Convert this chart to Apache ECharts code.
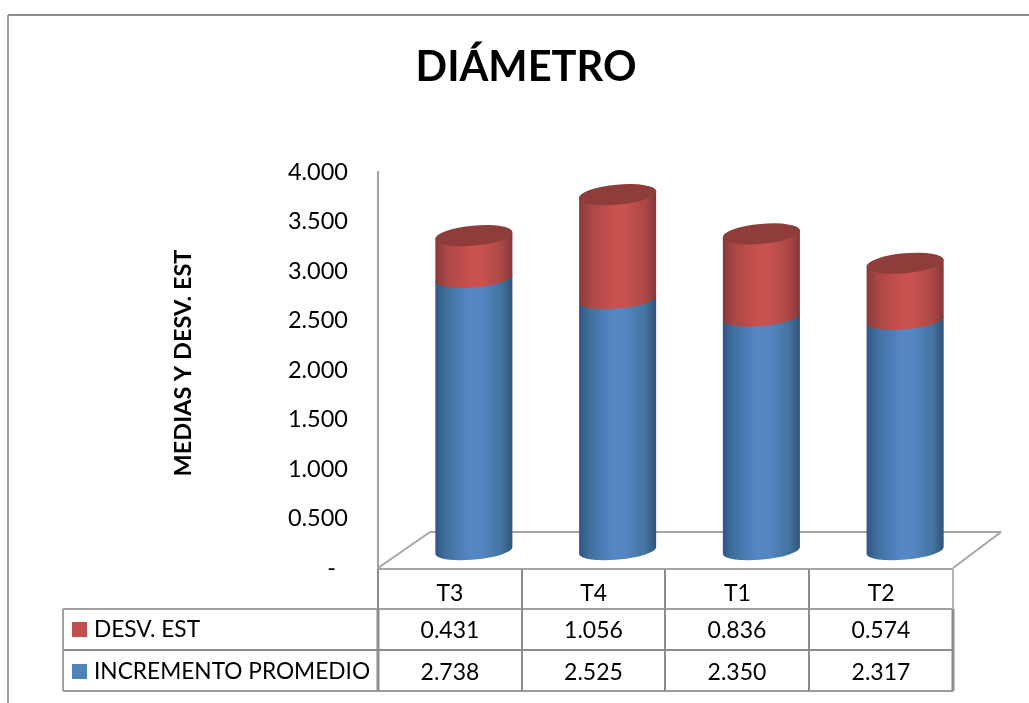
<!DOCTYPE html>
<html><head><meta charset="utf-8">
<style>html,body{margin:0;padding:0;background:#fff}#c{width:1029px;height:703px}</style>
<script src="https://cdn.jsdelivr.net/npm/echarts@6/dist/echarts.min.js"></script>
</head><body><div id="c"></div>
<script>
const categories = ['T3','T4','T1','T2'];
const incremento = [2.738,2.525,2.350,2.317];
const desvEst = [0.431,1.056,0.836,0.574];
const FONT = 'Lato';
const LINE = '#8a8a8a';
const chart = echarts.init(document.getElementById('c'));

const RATIO = 0.536, TILT = 3.5, RY = 9;
function cylinder(api, colors, capColor){
  const cat = api.value(0);
  const bot = api.coord([cat, api.value(1)]);
  const top = api.coord([cat, api.value(2)]);
  const hw = api.size([1,0])[0]*RATIO/2;
  const rx = Math.sqrt(hw*hw+TILT*TILT), rot = -Math.atan2(TILT,hw)*180/Math.PI;
  const cx = bot[0];
  const arc = (x,y,ry)=>`A ${rx} ${ry||RY} ${rot} 0 0 ${x} ${y}`;
  const L=cx-hw, R=cx+hw;
  const body = `M ${L} ${top[1]+TILT} L ${L} ${bot[1]+TILT} ${arc(R,bot[1]-TILT)} L ${R} ${top[1]-TILT} ${arc(L,top[1]+TILT)} Z`;
  const children = [{
    type:'path', shape:{pathData:body},
    style:{fill:new echarts.graphic.LinearGradient(0,0,1,0,colors), stroke:null}
  }];
  if(capColor){
    const cap = `M ${L} ${top[1]+TILT} ${arc(R,top[1]-TILT,10)} ${arc(L,top[1]+TILT,10)} Z`;
    children.push({type:'path', shape:{pathData:cap}, style:{fill:capColor, stroke:null}});
  }
  return {type:'group', children};
}
const blueGrad = [{offset:0,color:'#2f5583'},{offset:0.14,color:'#41709f'},{offset:0.45,color:'#5587c6'},{offset:0.6,color:'#5486c4'},{offset:0.86,color:'#43739f'},{offset:1,color:'#2f5379'}];
const redGrad = [{offset:0,color:'#853a38'},{offset:0.14,color:'#a84745'},{offset:0.45,color:'#c9524f'},{offset:0.6,color:'#c9524f'},{offset:0.86,color:'#aa4846'},{offset:1,color:'#823735'}];

const colX = [378,522,665,809,953];
const g = [];
const ln = (x1,y1,x2,y2,w,c)=>g.push({type:'line',z:1,silent:true,shape:{x1,y1,x2,y2},style:{stroke:c||LINE,lineWidth:w||2}});
ln(8,15,1029,15,2,'#8c8c8c'); ln(8,15,8,703,2,'#a0a0a0');
ln(378,568,430,532,2,'#a6a6a6'); ln(430,532,1001,532,2,'#a6a6a6'); ln(1001,532,953,568,2,'#a6a6a6');
ln(378,569,953,569,2,'#a6a6a6');
ln(63,609,953,609,2,'#a0a0a0'); ln(63,650,953,650,2,'#8c8c8c'); ln(63,691,953,691,2,'#9a9a9a');
ln(63,609,63,691,2,'#a0a0a0');
colX.forEach((x,i)=>{ ln(x,569,x,609,2,i===4?'#b4b4b4':'#8c8c8c'); ln(x,609,x,691,i===0||i===4?3:2,'#8c8c8c'); });
categories.forEach((c,i)=>{
  const x=(colX[i]+colX[i+1])/2;
  g.push({type:'text',z:5,style:{text:desvEst[i].toFixed(3),x,y:631,align:'center',verticalAlign:'middle',font:`23px ${FONT}`,fill:'#000'}});
  g.push({type:'text',z:5,style:{text:incremento[i].toFixed(3),x,y:673,align:'center',verticalAlign:'middle',font:`23px ${FONT}`,fill:'#000'}});
});

chart.setOption({
  animation:false,
  backgroundColor:'#fff',
  textStyle:{fontFamily:FONT},
  title:{text:'DIÁMETRO',left:526,top:47,padding:0,textAlign:'center',textStyle:{fontFamily:FONT,fontSize:41.6,fontWeight:'bold',color:'#000'}},
  legend:{orient:'vertical',left:72,top:618,padding:0,itemWidth:15,itemHeight:15,itemGap:19,icon:'rect',
    data:['DESV. EST','INCREMENTO PROMEDIO'],
    textStyle:{fontFamily:FONT,fontSize:22.7,color:'#000',padding:[0,0,0,2]}},
  grid:[
    {left:378,width:575,top:172,height:396},
    {left:402,width:575,top:153,height:397.6}
  ],
  xAxis:[
    {type:'category',gridIndex:0,data:categories,axisTick:{show:false},axisLine:{show:false},
     axisLabel:{fontFamily:FONT,fontSize:23,color:'#000',margin:14}},
    {type:'category',gridIndex:1,data:categories,show:false}
  ],
  yAxis:[
    {type:'value',gridIndex:0,min:0,max:4,interval:0.5,
     name:'MEDIAS Y DESV. EST',nameLocation:'middle',nameGap:183,
     nameTextStyle:{fontFamily:FONT,fontSize:23.5,fontWeight:'bold',color:'#000',padding:[0,0,0,14]},
     axisLine:{show:true,onZero:false,lineStyle:{color:'#a0a0a0',width:2}},axisTick:{show:false},splitLine:{show:false},
     axisLabel:{fontFamily:FONT,fontSize:23.5,color:'#000',margin:30,padding:[6,0,0,0],
       formatter:v=>v===0?'-  ':v.toFixed(3)}},
    {type:'value',gridIndex:1,min:0,max:4,interval:0.5,show:false,splitLine:{show:false}}
  ],
  graphic:{elements:g},
  series:[
    {name:'INCREMENTO PROMEDIO',type:'custom',xAxisIndex:1,yAxisIndex:1,z:3,itemStyle:{color:'#4f81bd'},
     encode:{x:0,y:2},
     data:incremento.map((v,i)=>[i,0,v]),
     renderItem:(p,api)=>cylinder(api,blueGrad,null)},
    {name:'DESV. EST',type:'custom',xAxisIndex:1,yAxisIndex:1,z:4,itemStyle:{color:'#c0504d'},
     encode:{x:0,y:2},
     data:desvEst.map((v,i)=>[i,incremento[i],incremento[i]+v]),
     renderItem:(p,api)=>cylinder(api,redGrad,'#8e3d3b')}
  ]
});
</script></body></html>
